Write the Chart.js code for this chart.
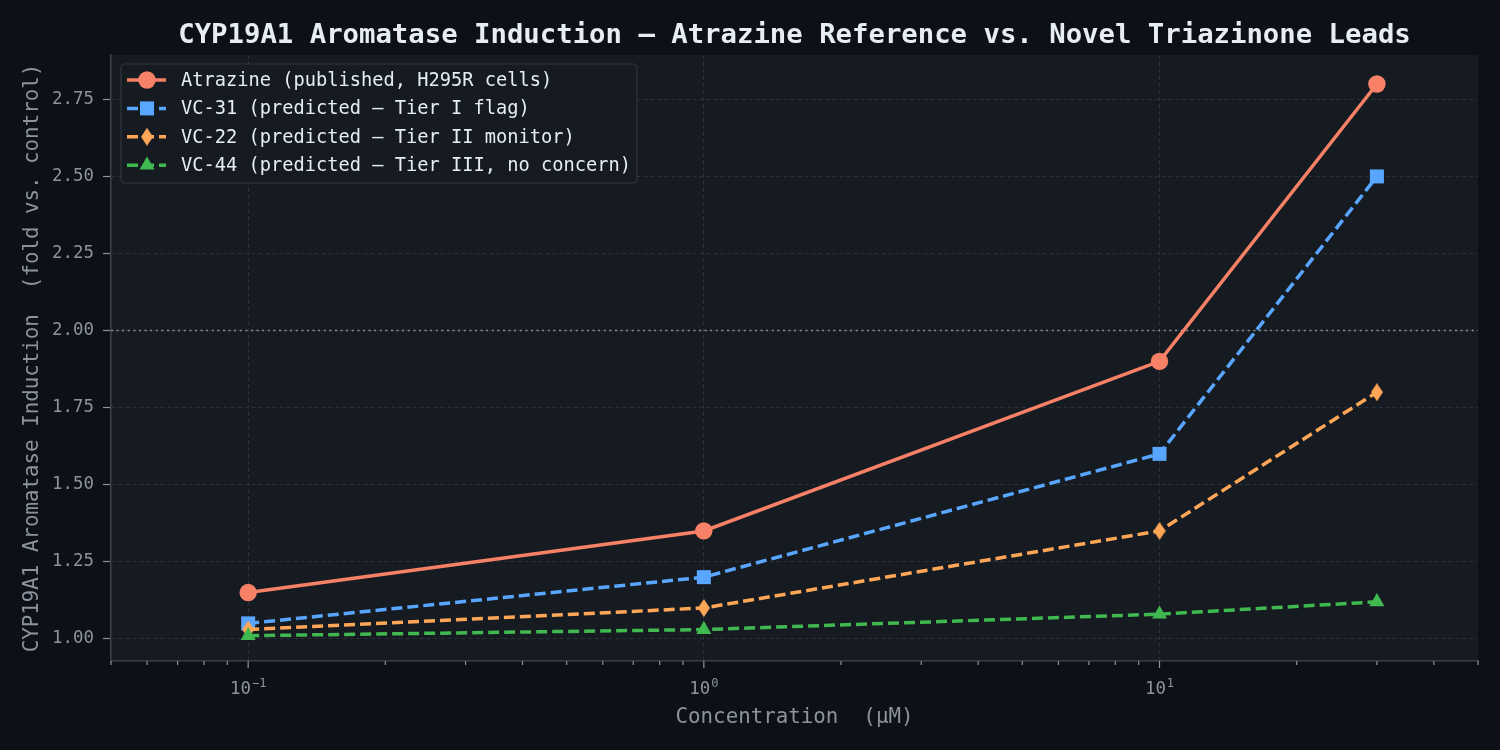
<!DOCTYPE html>
<html><head><meta charset="utf-8">
<script src="https://cdn.jsdelivr.net/npm/chart.js@4/dist/chart.umd.min.js"></script>
<style>html,body{margin:0;padding:0;background:#0d1117}canvas{display:block}</style>
</head><body>
<canvas id="c" width="1500" height="750"></canvas>
<script>
// ---------- data ----------
const concentrations = [0.1, 1, 10, 30];
const atrazine = [1.15, 1.35, 1.90, 2.80];
const vc31 = [1.05, 1.20, 1.60, 2.50];
const vc22 = [1.03, 1.10, 1.35, 1.80];
const vc44 = [1.01, 1.03, 1.08, 1.12];
const seriesLabels = [
  'Atrazine (published, H295R cells)',
  'VC-31 (predicted \u2014 Tier I flag)',
  'VC-22 (predicted \u2014 Tier II monitor)',
  'VC-44 (predicted \u2014 Tier III, no concern)'
];
const xMajorTicks = [0.1, 1, 10];
const xMajorBase = '10';
const xMajorExponents = ['\u22121', '0', '1'];
const xMinorTicks = [0.05,0.06,0.07,0.08,0.09,0.2,0.3,0.4,0.5,0.6,0.7,0.8,0.9,2,3,4,5,6,7,8,9,20,30,40,50];
const yTicks = [1.00, 1.25, 1.50, 1.75, 2.00, 2.25, 2.50, 2.75];
const threshold = 2.0;
const titleText = 'CYP19A1 Aromatase Induction \u2014 Atrazine Reference vs. Novel Triazinone Leads';
const xTitle = 'Concentration  (\u03BCM)';
const yTitle = 'CYP19A1 Aromatase Induction  (fold vs. control)';

// ---------- style ----------
const FONT = "'DejaVu Sans Mono', monospace";
const figBg = '#0d1117', axBg = '#161b22', gridColor = '#2b3039', spineColor = '#3a404a';
const tickColor = '#8b949e', textColor = '#e6edf3';
const colors = ['#f78166', '#58a6ff', '#ffa657', '#3fb950'];

function thinDiamond(color) {
  const c = document.createElement('canvas');
  c.width = 12; c.height = 18;
  const g = c.getContext('2d');
  g.fillStyle = color;
  g.beginPath(); g.moveTo(6, 0); g.lineTo(12, 9); g.lineTo(6, 18); g.lineTo(0, 9); g.closePath(); g.fill();
  return c;
}
const styles = [
  {pointStyle: 'circle', pointRadius: 8.7, dash: []},
  {pointStyle: 'rect', pointRadius: 9.9, dash: [11, 5]},
  {pointStyle: thinDiamond(colors[2]), pointRadius: 9, dash: [11, 5]},
  {pointStyle: 'triangle', pointRadius: 8.7, dash: [11, 5]}
];
const seriesData = [atrazine, vc31, vc22, vc44];

const datasets = seriesData.map((arr, i) => ({
  label: seriesLabels[i],
  data: concentrations.map((x, j) => ({x: x, y: arr[j]})),
  borderColor: colors[i],
  backgroundColor: colors[i],
  pointBackgroundColor: colors[i],
  pointBorderWidth: 0,
  borderWidth: 3.5,
  borderDash: styles[i].dash,
  pointStyle: styles[i].pointStyle,
  pointRadius: styles[i].pointRadius,
  pointHoverRadius: styles[i].pointRadius,
  fill: false,
  tension: 0,
  order: 3 - i
}));

const isMajor = v => xMajorTicks.some(m => Math.abs(m - v) < 1e-9);

const decor = {
  id: 'decor',
  beforeDraw(chart) {
    const {ctx, chartArea: a} = chart;
    ctx.save();
    ctx.fillStyle = figBg; ctx.fillRect(0, 0, chart.width, chart.height);
    ctx.fillStyle = axBg; ctx.fillRect(a.left, a.top, a.right - a.left, a.bottom - a.top);
    ctx.restore();
  },
  beforeDatasetsDraw(chart) {
    const {ctx, chartArea: a, scales} = chart;
    const y = scales.y.getPixelForValue(threshold);
    ctx.save();
    ctx.strokeStyle = '#8b929c'; ctx.lineWidth = 1.6; ctx.setLineDash([2, 3.6]);
    ctx.beginPath(); ctx.moveTo(a.left, y); ctx.lineTo(a.right, y); ctx.stroke();
    ctx.restore();
  },
  afterDraw(chart) {
    const {ctx, chartArea: a, scales} = chart;
    ctx.save();
    // x tick marks
    ctx.strokeStyle = tickColor; ctx.lineWidth = 1.2;
    scales.x.ticks.forEach(t => {
      const px = scales.x.getPixelForValue(t.value);
      const len = isMajor(t.value) ? 7 : 4;
      ctx.beginPath(); ctx.moveTo(px, a.bottom); ctx.lineTo(px, a.bottom + len); ctx.stroke();
    });
    // x tick labels (base with superscript exponent)
    ctx.fillStyle = tickColor; ctx.textBaseline = 'alphabetic'; ctx.textAlign = 'left';
    xMajorTicks.forEach((v, k) => {
      const px = scales.x.getPixelForValue(v);
      ctx.font = "17.4px " + FONT;
      const wb = ctx.measureText(xMajorBase).width;
      ctx.font = "12px " + FONT;
      const we = ctx.measureText(xMajorExponents[k]).width;
      const x0 = px - (wb + we + 1) / 2;
      ctx.font = "17.4px " + FONT;
      ctx.fillText(xMajorBase, x0, 694);
      ctx.font = "12px " + FONT;
      ctx.fillText(xMajorExponents[k], x0 + wb + 1, 687);
    });
    // title
    ctx.fillStyle = textColor; ctx.textAlign = 'center'; ctx.textBaseline = 'alphabetic';
    ctx.font = "bold 27.3px " + FONT;
    ctx.fillText(titleText, (a.left + a.right) / 2, 43);
    // axis titles
    ctx.fillStyle = tickColor; ctx.font = "20.8px " + FONT;
    ctx.fillText(xTitle, (a.left + a.right) / 2, 723);
    ctx.save();
    ctx.translate(38, (a.top + a.bottom) / 2); ctx.rotate(-Math.PI / 2);
    ctx.fillText(yTitle, 0, 0);
    ctx.restore();
    // legend
    const lx = 121, ly = 64, lw = 516, lh = 119;
    ctx.fillStyle = 'rgba(22,27,34,0.92)'; ctx.strokeStyle = '#30363d'; ctx.lineWidth = 1.2;
    ctx.beginPath(); ctx.roundRect(lx, ly, lw, lh, 4); ctx.fill(); ctx.stroke();
    ctx.font = "18.7px " + FONT; ctx.textAlign = 'left'; ctx.textBaseline = 'middle';
    chart.data.datasets.forEach((ds, i) => {
      const yy = 80 + i * 28.4;
      ctx.strokeStyle = ds.borderColor; ctx.lineWidth = 3.5; ctx.setLineDash(ds.borderDash);
      ctx.beginPath(); ctx.moveTo(127, yy); ctx.lineTo(166, yy); ctx.stroke();
      ctx.setLineDash([]);
      ctx.fillStyle = ds.backgroundColor;
      Chart.helpers.drawPoint(ctx, {pointStyle: ds.pointStyle, radius: ds.pointRadius, rotation: 0, borderWidth: 0}, 147, yy);
      ctx.fillStyle = textColor;
      ctx.fillText(ds.label, 181, yy + 1);
    });
    ctx.restore();
  }
};

new Chart(document.getElementById('c'), {
  type: 'line',
  data: {datasets},
  options: {
    responsive: false,
    animation: false,
    events: [],
    layout: {padding: {left: 0, right: 22, top: 55, bottom: 0}},
    plugins: {legend: {display: false}, title: {display: false}, tooltip: {enabled: false}},
    scales: {
      x: {
        type: 'logarithmic',
        min: 0.05, max: 50,
        afterBuildTicks: s => { s.ticks = [...xMinorTicks, ...xMajorTicks].sort((p, q) => p - q).map(v => ({value: v, major: isMajor(v)})); },
        afterFit: s => { s.height = 89; },
        grid: {
          color: c => (c.tick && isMajor(c.tick.value)) ? gridColor : 'rgba(0,0,0,0)',
          lineWidth: 1, drawTicks: false
        },
        border: {display: true, color: spineColor, width: 1.6, dash: [4, 3]},
        ticks: {display: false, autoSkip: false, maxRotation: 0}
      },
      y: {
        type: 'linear',
        min: 0.928, max: 2.894,
        afterBuildTicks: s => { s.ticks = yTicks.map(v => ({value: v})); },
        afterFit: s => { s.width = 111; },
        grid: {color: gridColor, lineWidth: 1, drawTicks: true, tickLength: 8, tickColor: tickColor, tickWidth: 1.2},
        border: {display: true, color: spineColor, width: 1.6, dash: [4, 3]},
        ticks: {color: tickColor, padding: 9, font: {family: FONT, size: 17.4}, callback: v => Number(v).toFixed(2)}
      }
    }
  },
  plugins: [decor]
});
</script>
</body></html>
